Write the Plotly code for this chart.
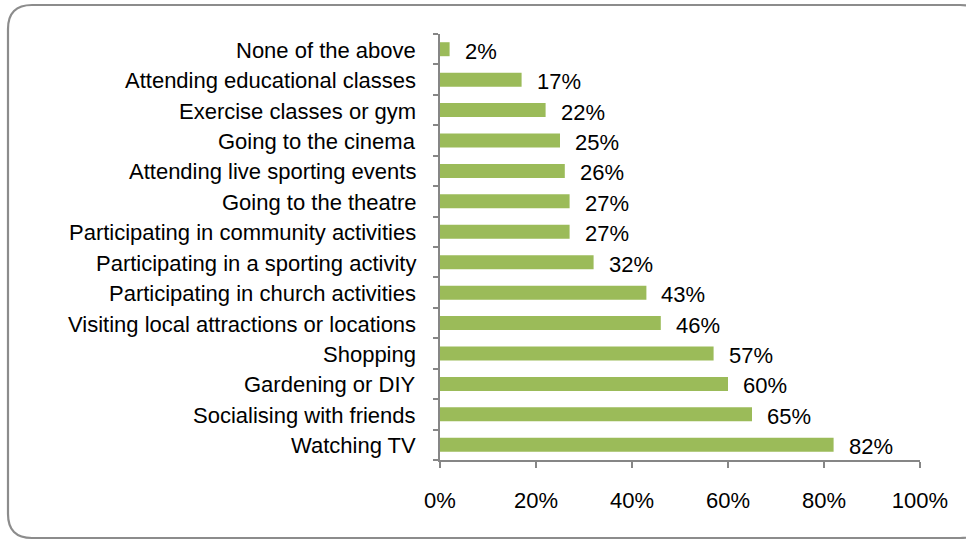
import plotly.graph_objects as go

# Leisure activities and share of respondents
activities = [
    "Watching TV",
    "Socialising with friends",
    "Gardening or DIY",
    "Shopping",
    "Visiting local attractions or locations",
    "Participating in church activities",
    "Participating in a sporting activity",
    "Participating in community activities",
    "Going to the theatre",
    "Attending live sporting events",
    "Going to the cinema",
    "Exercise classes or gym",
    "Attending educational classes",
    "None of the above",
]
shares = [82, 65, 60, 57, 46, 43, 32, 27, 27, 26, 25, 22, 17, 2]
x_ticks = [0, 20, 40, 60, 80, 100]
x_tick_labels = ["0%", "20%", "40%", "60%", "80%", "100%"]

W, H = 966, 540
L, R, T, B = 440, 46, 34, 80
plot_w = W - L - R
plot_h = H - T - B

FONT = "Liberation Sans, Arial, sans-serif"
FS = 22
AXIS_GREY = "#868686"

fig = go.Figure()
fig.add_trace(
    go.Bar(
        x=shares,
        y=activities,
        orientation="h",
        marker=dict(color="#9BBB59", line=dict(width=0)),
        hoverinfo="skip",
    )
)

# value labels just to the right of each bar
for a, v in zip(activities, shares):
    fig.add_annotation(
        x=v, y=a, text=f"{v}%", showarrow=False,
        xanchor="left", yanchor="middle", xshift=13, yshift=-2,
        font=dict(family=FONT, size=FS, color="#000000"),
    )

# rounded outer frame, expressed in paper coordinates
def px(xp):
    return (xp - L) / plot_w

def py(yp):
    return (H - B - yp) / plot_h

x0, x1, y0, y1, rad = 8, 984, 5, 538, 24
path = (
    f"M {px(x0 + rad)} {py(y0)} "
    f"L {px(x1 - rad)} {py(y0)} "
    f"Q {px(x1)} {py(y0)} {px(x1)} {py(y0 + rad)} "
    f"L {px(x1)} {py(y1 - rad)} "
    f"Q {px(x1)} {py(y1)} {px(x1 - rad)} {py(y1)} "
    f"L {px(x0 + rad)} {py(y1)} "
    f"Q {px(x0)} {py(y1)} {px(x0)} {py(y1 - rad)} "
    f"L {px(x0)} {py(y0 + rad)} "
    f"Q {px(x0)} {py(y0)} {px(x0 + rad)} {py(y0)} Z"
)
fig.add_shape(
    type="path", path=path, xref="paper", yref="paper",
    line=dict(color="#8C8C8C", width=2.2), layer="below",
)

fig.update_layout(
    width=W, height=H,
    margin=dict(l=L, r=R, t=T, b=B, pad=0),
    paper_bgcolor="white", plot_bgcolor="white",
    showlegend=False,
    bargap=0.54,
    font=dict(family=FONT, size=FS, color="#000000"),
    xaxis=dict(
        range=[0, 100], tickvals=x_ticks, ticktext=x_tick_labels,
        showgrid=False, zeroline=False,
        showline=True, linecolor=AXIS_GREY, linewidth=1.5,
        ticks="outside", ticklen=6, tickcolor=AXIS_GREY, tickwidth=1.5,
        ticklabelstandoff=14,
        tickfont=dict(family=FONT, size=FS, color="#000000"),
    ),
    yaxis=dict(
        categoryorder="array", categoryarray=activities,
        range=[-0.5, len(activities) - 0.5],
        showgrid=False, zeroline=False,
        showline=True, linecolor=AXIS_GREY, linewidth=1.5,
        ticks="outside", ticklen=5, tickcolor=AXIS_GREY, tickwidth=1.5,
        tickmode="array",
        tickvals=[i - 0.5 for i in range(len(activities) + 1)],
        ticktext=[""] * (len(activities) + 1),
        tickfont=dict(family=FONT, size=FS, color="#000000"),
    ),
)

# category names placed left of the axis
for a in activities:
    fig.add_annotation(
        x=0, y=a, xref="paper", text=a, showarrow=False,
        xanchor="right", yanchor="middle", xshift=-22, yshift=-1,
        font=dict(family=FONT, size=FS, color="#000000"),
    )

fig.write_html("out.html")
